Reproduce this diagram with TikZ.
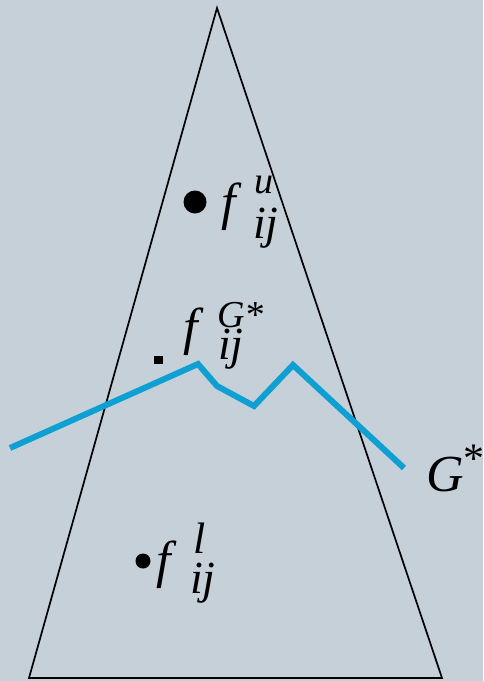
\documentclass[tikz,border=0pt]{standalone}
\usepackage{fontspec}
\setmainfont{Liberation Serif}
\definecolor{bg}{RGB}{197,208,216}
\definecolor{gline}{RGB}{14,160,210}
\tikzset{
  lbl/.style={inner sep=0pt, anchor=base west, font=\itshape},
  suplbl/.style={lbl, text depth=0pt},
  sublbl/.style={lbl, text height=14pt},
  edge/.style={draw=black, line width=1.7pt, line join=miter},
  gpath/.style={draw=gline, line width=6pt, line join=miter}
}
\newcommand{\fs}[1]{\fontsize{#1}{#1}\selectfont}
\begin{document}
\begin{tikzpicture}[x=1pt,y=-1pt]
\fill[bg] (0,0) rectangle (483,681);
\useasboundingbox (0,0) rectangle (483,681);
% triangle
\coordinate (apex) at (217,8);
\coordinate (bl) at (29,678);
\coordinate (br) at (442,678);
\draw[edge] (bl) -- (apex) -- (br) -- cycle;
% G* path
\coordinate (p0) at (10,448);
\coordinate (p1) at (198,364);
\coordinate (p2) at (217,386);
\coordinate (p3) at (254,406);
\coordinate (p4) at (293,365);
\coordinate (p5) at (404,468);
\draw[gpath] (p0) -- (p1) -- (p2) -- (p3) -- (p4) -- (p5);
% points
\fill (195,202) circle (11.5pt);
\fill (154,356) rectangle (163,364);
\fill (143,561) circle (7.5pt);
% f^u_ij
\node[lbl, font=\itshape\fs{52}] (fu) at (221,219) {f};
\node[suplbl, font=\itshape\fs{38}] (fuu) at (254,193) {u};
\node[sublbl, font=\itshape\fs{46}] (fuij) at (253,238) {ij};
% f^G*_ij
\node[lbl, font=\itshape\fs{52}] (fg) at (183,344) {f};
\node[suplbl, font=\itshape\fs{38}] (fgg) at (217,327) {G*};
\node[sublbl, font=\itshape\fs{46}] (fgij) at (218,359) {ij};
% f^l_ij
\node[lbl, font=\itshape\fs{52}] (fl) at (156,577) {f};
\node[suplbl, font=\itshape\fs{44}] (fll) at (193,553) {l};
\node[sublbl, font=\itshape\fs{46}] (flij) at (190,593) {ij};
% G*
\node[lbl, font=\itshape\fs{52}] (gs) at (426,491) {G};
\node[suplbl, font=\itshape\fs{42}] (gss) at (461,472) {*};
\end{tikzpicture}
\end{document}
